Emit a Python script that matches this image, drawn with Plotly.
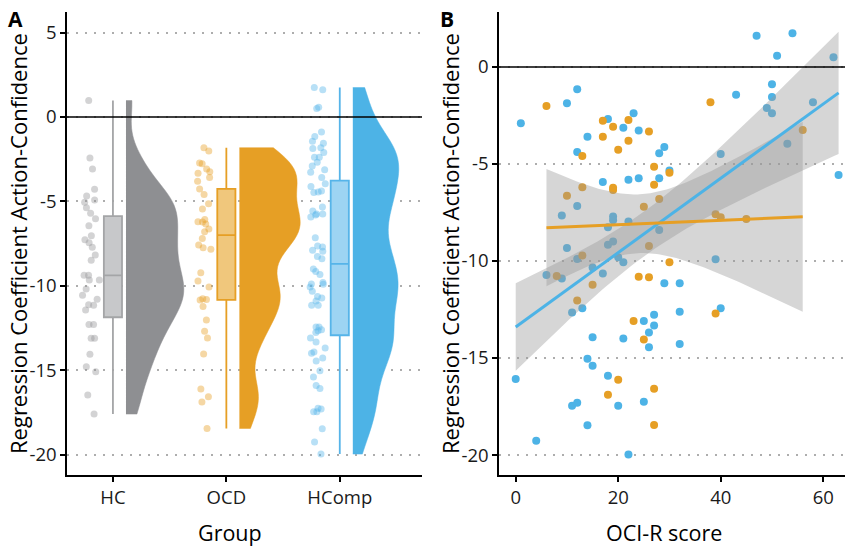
import numpy as np
import plotly.graph_objects as go

# ---------------- data ----------------
groups = ["HC", "OCD", "HComp"]
group_pos = [1, 2, 3]

hc_coef = [0.97, -2.43, -3.08, -4.28, -5.05, -4.92, -4.68, -5.37, -5.71, -6.03,
           -6.44, -7.03, -7.27, -7.45, -7.72, -8.18, -8.49, -9.38, -9.38, -9.66,
           -9.66, -10.19, -10.56, -10.80, -11.16, -11.43, -11.12, -12.30, -12.30, -13.11,
           -13.11, -14.06, -14.80, -15.10, -16.47, -17.60]

ocd_oci = [6, 17, 22, 19, 26, 17, 22, 20, 13, 27, 30, 27, 19, 19, 13, 10, 25, 28, 26, 13,
           8, 15, 12, 30, 24, 26, 23, 25, 20, 27, 18, 27, 38, 56, 39, 40, 45, 39]
ocd_coef = [-2.01, -2.77, -2.73, -3.08, -3.33, -3.59, -3.80, -4.26, -4.59, -5.14,
            -5.45, -6.07, -6.22, -6.34, -6.20, -6.63, -7.20, -6.80, -9.23, -9.72,
            -10.77, -11.22, -12.03, -10.07, -10.81, -10.84, -13.09, -14.04, -16.12, -16.58,
            -16.89, -18.45, -1.82, -3.25, -7.59, -7.75, -7.84, -12.70]

hcomp_oci = [1, 10, 12, 18, 23, 21, 24, 14, 12, 29, 28, 30, 28, 24, 22, 17, 12, 9, 19, 19,
             18, 22, 28, 10, 18, 19, 12, 6, 9, 15, 17, 20, 21, 11, 13, 29, 32, 32, 25, 27,
             27, 26, 26, 32, 15, 21, 14, 15, 0, 18, 11, 12, 20, 25, 14, 4, 22, 47, 54, 51,
             62, 43, 50, 50, 49, 50, 58, 53, 40, 63, 39, 40]
hcomp_coef = [-2.90, -1.87, -1.15, -2.68, -2.39, -3.13, -3.27, -3.59, -4.38, -4.12,
              -4.45, -5.33, -5.74, -5.74, -5.81, -5.93, -7.16, -7.65, -7.70, -7.90,
              -8.26, -7.96, -8.40, -9.33, -9.16, -9.00, -9.90, -10.72, -10.90, -10.33,
              -10.64, -9.81, -10.07, -12.66, -12.44, -11.15, -11.15, -12.61, -13.09, -12.77,
              -13.33, -13.68, -14.45, -14.28, -13.93, -13.99, -15.04, -15.40, -16.08, -15.91,
              -17.46, -17.30, -17.46, -17.25, -18.47, -19.26, -19.97, 1.61, 1.74, 0.58,
              0.50, -1.43, -0.89, -1.55, -2.11, -2.39, -1.82, -3.95, -4.48, -5.57,
              -9.91, -12.44]

y_ticks_a = [5, 0, -5, -10, -15, -20]
y_ticks_b = [0, -5, -10, -15, -20]
x_ticks_b = [0, 20, 40, 60]

# ---------------- styles ----------------
FONT = "Open Sans"
W, H = 845, 549
violin_col = ["#8E8F92", "#E69F25", "#4DB3E6"]
box_fill = ["#C7C8CA", "#F0C77C", "#9DD4F3"]
box_line = ["#A4A5A7", "#E69F25", "#56B4E9"]
pt_col = ["rgba(150,150,152,0.42)", "rgba(230,159,37,0.42)", "rgba(86,180,233,0.42)"]
violin_w = [1.02, 1.07, 0.81]
violin_bw = [1.25, 1.25, 1.35]
ORANGE, BLUE = "#E69F25", "#4DB3E6"

def fx(px):
    return px / W

def fy(py):
    return 1 - py / H

fig = go.Figure()

groups_data = [hc_coef, ocd_coef, hcomp_coef]

# ---- Panel A ----
for i, (g, p, d) in enumerate(zip(groups, group_pos, groups_data)):
    n = len(d)
    fig.add_trace(go.Violin(
        x=[p + 0.115] * n, y=d, side="positive", width=violin_w[i],
        spanmode="hard", bandwidth=violin_bw[i], points=False,
        fillcolor=violin_col[i], line=dict(color=violin_col[i], width=0.5),
        box_visible=False, meanline_visible=False, opacity=1,
        showlegend=False, xaxis="x", yaxis="y", hoverinfo="skip"))
    fig.add_trace(go.Box(
        x=[p] * n, y=d, boxpoints=False, width=0.16, whiskerwidth=0,
        fillcolor=box_fill[i], line=dict(color=box_line[i], width=1.8),
        showlegend=False, xaxis="x", yaxis="y", name=g))
    fig.add_trace(go.Box(
        x=[p] * n, y=d, boxpoints="all", jitter=0.8, pointpos=-1.9, width=0.2,
        fillcolor="rgba(0,0,0,0)", line=dict(color="rgba(0,0,0,0)", width=0),
        marker=dict(color=pt_col[i], size=7, line=dict(width=0)),
        showlegend=False, xaxis="x", yaxis="y", name=g, hoveron="points"))

# ---- Panel B ----
def t975(df):
    try:
        from scipy import stats
        return float(stats.t.ppf(0.975, df))
    except Exception:
        z = 1.959964
        return z + (z**3 + z) / (4 * df) + (5 * z**5 + 16 * z**3 + 3 * z) / (96 * df**2)

def lm_fit(xs, ys):
    x = np.asarray(xs, float)
    y = np.asarray(ys, float)
    n = len(x)
    b, a = np.polyfit(x, y, 1)
    xg = np.linspace(x.min(), x.max(), 80)
    yg = a + b * xg
    resid = y - (a + b * x)
    s = np.sqrt(np.sum(resid ** 2) / (n - 2))
    sxx = np.sum((x - x.mean()) ** 2)
    se = s * np.sqrt(1.0 / n + (xg - x.mean()) ** 2 / sxx)
    t = t975(n - 2)
    return xg, yg, yg - t * se, yg + t * se

fig.add_trace(go.Scatter(x=hcomp_oci, y=hcomp_coef, mode="markers",
                         marker=dict(color=BLUE, size=8), showlegend=False,
                         xaxis="x2", yaxis="y2"))
fig.add_trace(go.Scatter(x=ocd_oci, y=ocd_coef, mode="markers",
                         marker=dict(color=ORANGE, size=8), showlegend=False,
                         xaxis="x2", yaxis="y2"))

fits = [lm_fit(hcomp_oci, hcomp_coef), lm_fit(ocd_oci, ocd_coef)]
for xg, yg, lo, hi in fits:
    fig.add_trace(go.Scatter(
        x=np.concatenate([xg, xg[::-1]]), y=np.concatenate([hi, lo[::-1]]),
        mode="lines", fill="toself", fillcolor="rgba(153,153,153,0.4)",
        line=dict(width=0), showlegend=False, hoverinfo="skip",
        xaxis="x2", yaxis="y2"))
for (xg, yg, lo, hi), c in zip(fits, [BLUE, ORANGE]):
    fig.add_trace(go.Scatter(x=xg, y=yg, mode="lines", line=dict(color=c, width=3),
                             showlegend=False, xaxis="x2", yaxis="y2"))

# ---------------- layout ----------------
tickfont = dict(family=FONT, size=18.5, color="#1A1A1A")
common_axis = dict(showline=True, linecolor="black", linewidth=1.5,
                   ticks="outside", ticklen=5, tickwidth=1.5, tickcolor="black",
                   tickfont=tickfont, zeroline=False, fixedrange=True)
grid = dict(showgrid=True, gridcolor="#ADADAD", gridwidth=1.6, griddash="2px,7px")

ydom = [fy(475), fy(12)]
title_font = dict(family=FONT, size=22, color="black")
xtitle_font = dict(family=FONT, size=21.5, color="black")
fig.update_layout(
    width=W, height=H, margin=dict(l=0, r=0, t=0, b=0),
    paper_bgcolor="white", plot_bgcolor="white",
    boxmode="overlay", violinmode="overlay",
    font=dict(family=FONT, color="black"),
    xaxis=dict(domain=[fx(67), fx(422)], range=[0.595, 3.725], type="linear",
               tickvals=group_pos, ticktext=groups, showgrid=False, anchor="y",
               **common_axis),
    yaxis=dict(domain=ydom, range=[-21.21, 6.22], tickvals=y_ticks_a,
               ticktext=[str(v) for v in y_ticks_a], anchor="x", **grid, **common_axis),
    xaxis2=dict(domain=[fx(499), 1.0], range=[-3.26, 64.25],
                tickvals=x_ticks_b, ticktext=[str(v) for v in x_ticks_b],
                showgrid=False, anchor="y2", **common_axis),
    yaxis2=dict(domain=ydom, range=[-21.03, 2.835], tickvals=y_ticks_b,
                ticktext=[str(v) for v in y_ticks_b], anchor="x2", **grid, **common_axis),
    shapes=[
        dict(type="line", xref="x domain", yref="y", x0=0, x1=1, y0=0, y1=0,
             line=dict(color="black", width=1.6), layer="above"),
        dict(type="line", xref="x2 domain", yref="y2", x0=0, x1=1, y0=0, y1=0,
             line=dict(color="black", width=1.6), layer="above"),
    ],
    annotations=[
        dict(text="Regression Coefficient Action-Confidence", textangle=-90,
             xref="paper", yref="paper", x=fx(18), y=fy(244), showarrow=False,
             font=title_font, xanchor="center", yanchor="middle"),
        dict(text="Regression Coefficient Action-Confidence", textangle=-90,
             xref="paper", yref="paper", x=fx(450), y=fy(244), showarrow=False,
             font=title_font, xanchor="center", yanchor="middle"),
        dict(text="Group", xref="paper", yref="paper", x=fx(230), y=0,
             showarrow=False, font=xtitle_font, xanchor="center", yanchor="bottom"),
        dict(text="OCI-R score", xref="paper", yref="paper", x=fx(664), y=0,
             showarrow=False, font=xtitle_font, xanchor="center", yanchor="bottom"),
        dict(text="<b>A</b>", xref="paper", yref="paper", x=fx(15), y=fy(19),
             showarrow=False, font=dict(family=FONT, size=21, color="black"),
             xanchor="center", yanchor="middle"),
        dict(text="<b>B</b>", xref="paper", yref="paper", x=fx(447), y=fy(19),
             showarrow=False, font=dict(family=FONT, size=21, color="black"),
             xanchor="center", yanchor="middle"),
    ],
)

fig.write_html("out.html")
